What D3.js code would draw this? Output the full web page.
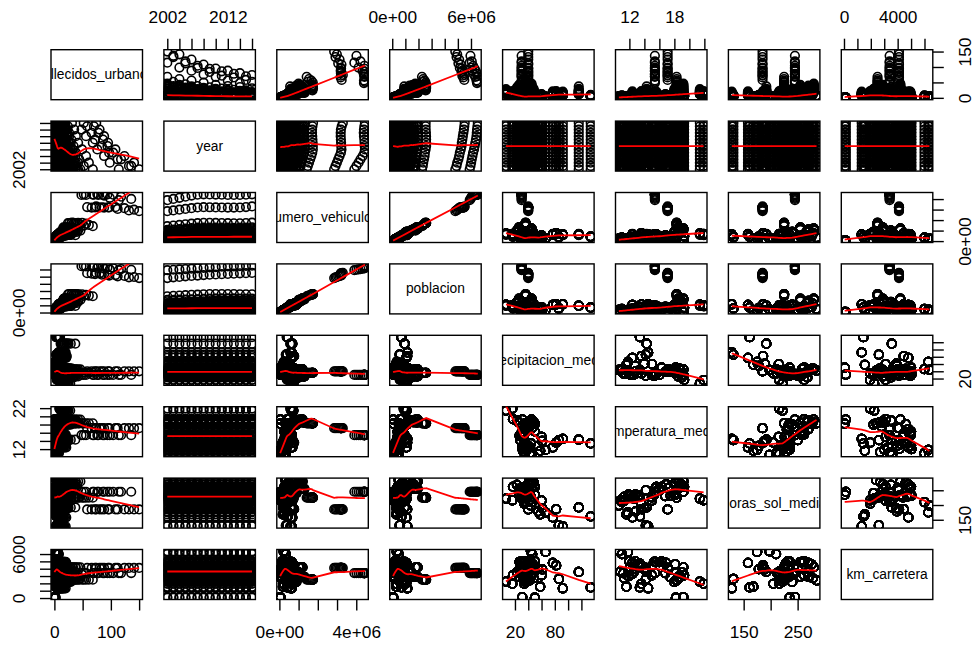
<!DOCTYPE html>
<html>
<head>
<meta charset="utf-8">
<script src="https://cdn.jsdelivr.net/npm/d3@7"></script>
<style>
  body { margin: 0; background: #fff; }
  svg { display: block; }
</style>
</head>
<body>
<svg id="chart" width="975" height="646"></svg>
<script>
// ---- Data: one record per province and year -------------------------------
const years = [2002, 2003, 2004, 2005, 2006, 2007, 2008, 2009, 2010, 2011, 2012, 2013, 2014, 2015, 2016];

const provincias = [
  "Gipuzkoa", "Pontevedra", "Bizkaia", "Cantabria", "A Coruña", "Asturias", "Lugo", "Ourense",
  "Navarra", "Araba/Álava", "Girona", "Ceuta", "Melilla", "Las Palmas", "Santa Cruz de Tenerife",
  "Almería", "Murcia", "Alicante", "Valencia", "Castellón", "Málaga", "Cádiz", "Huelva", "Sevilla",
  "Córdoba", "Jaén", "Granada", "Illes Balears", "Badajoz", "Cáceres", "Tarragona", "Barcelona",
  "Madrid", "Toledo", "Ciudad Real", "Albacete", "Cuenca", "Guadalajara", "Zaragoza", "Huesca",
  "Teruel", "Lleida", "La Rioja", "Soria", "Burgos", "Palencia", "León", "Valladolid", "Zamora",
  "Salamanca", "Ávila", "Segovia"
];

// Province-level climate and road network (same value every year)
const precipitacion_media = [134, 116, 92, 86, 82, 77, 66, 61, 55, 58, 60, 50, 31, 6.5, 16, 17, 23, 26, 36, 40,
  44, 48, 42, 45, 47, 46, 34, 36, 40, 50, 38, 40, 30, 30, 33, 28, 40, 36, 27, 44, 31, 30, 34, 42, 44, 35, 46,
  33, 31, 32, 33, 38];
const temperatura_media = [13.4, 14.3, 14.5, 14.2, 13.6, 12.4, 11.8, 14.0, 12.8, 11.6, 15.0, 18.2, 19.2, 21.4,
  21.9, 19.3, 19.0, 18.5, 18.3, 17.5, 18.8, 18.6, 18.3, 19.2, 18.1, 17.2, 15.6, 18.0, 16.9, 16.3, 16.8, 17.1,
  15.4, 16.0, 15.5, 14.2, 12.8, 13.2, 15.3, 13.4, 12.1, 15.0, 13.6, 10.8, 10.6, 11.2, 11.0, 12.4, 12.6, 12.0,
  11.3, 11.9];
const horas_sol_media = [161, 192, 128, 131, 186, 158, 175, 189, 178, 168, 215, 235, 245, 222, 216, 262, 268, 255,
  225, 232, 270, 278, 285, 280, 276, 258, 262, 240, 270, 262, 230, 185, 245, 255, 258, 250, 235, 232, 235, 228,
  232, 226, 205, 216, 198, 212, 210, 226, 222, 232, 228, 235];
const km_carretera = [1450, 3560, 1320, 2600, 4450, 4800, 6290, 3900, 3950, 1550, 3100, 52, 140, 2250, 1950, 3100,
  3500, 2900, 2500, 2800, 2900, 2700, 2400, 4200, 4600, 4000, 4900, 2200, 4800, 5000, 3400, 4100, 3400, 4900,
  4950, 4100, 5000, 4300, 4950, 4700, 4150, 4400, 1950, 3600, 6367, 3400, 6000, 3300, 3600, 5030, 2700, 3000];

// Population, thousands (rows: provinces, columns: years)
const poblacion = [
  [677, 680, 683, 686, 688, 692, 701, 705, 708, 710, 713, 712, 710, 711, 714],
  [919, 927, 934, 938, 939, 944, 953, 959, 963, 962, 958, 955, 950, 945, 943],
  [1128, 1133, 1136, 1139, 1140, 1142, 1147, 1153, 1153, 1155, 1159, 1156, 1151, 1148, 1147],
  [542, 549, 555, 563, 569, 573, 582, 589, 592, 593, 593, 591, 588, 585, 582],
  [1111, 1117, 1122, 1127, 1130, 1132, 1139, 1146, 1147, 1146, 1143, 1138, 1132, 1127, 1122],
  [1073, 1076, 1074, 1077, 1077, 1075, 1080, 1085, 1084, 1081, 1077, 1068, 1061, 1051, 1042],
  [361, 360, 358, 357, 356, 355, 355, 354, 353, 351, 347, 343, 339, 336, 333],
  [342, 341, 340, 339, 338, 336, 335, 335, 333, 330, 326, 322, 318, 314, 311],
  [569, 578, 584, 593, 601, 605, 620, 630, 636, 642, 644, 640, 640, 640, 640],
  [291, 295, 298, 301, 305, 309, 313, 317, 319, 321, 322, 321, 321, 322, 323],
  [598, 621, 636, 666, 687, 710, 731, 748, 752, 757, 761, 756, 753, 754, 756],
  [74, 75, 75, 75, 76, 77, 77, 78, 80, 82, 84, 84, 84, 84, 84],
  [68, 67, 65, 66, 66, 70, 71, 73, 76, 78, 80, 82, 84, 85, 86],
  [924, 955, 965, 1000, 1010, 1030, 1070, 1090, 1090, 1090, 1100, 1100, 1100, 1100, 1100],
  [844, 877, 888, 937, 950, 970, 1010, 1020, 1020, 1020, 1010, 1010, 1000, 1000, 1010],
  [565, 580, 590, 617, 635, 647, 667, 695, 702, 705, 704, 700, 701, 702, 705],
  [1226, 1269, 1295, 1335, 1370, 1392, 1426, 1446, 1462, 1470, 1474, 1472, 1467, 1467, 1465],
  [1565, 1632, 1658, 1733, 1783, 1826, 1891, 1918, 1926, 1935, 1943, 1934, 1868, 1856, 1836],
  [2267, 2326, 2360, 2416, 2463, 2486, 2543, 2582, 2581, 2580, 2578, 2566, 2548, 2544, 2544],
  [501, 523, 532, 560, 574, 587, 603, 609, 604, 606, 604, 601, 587, 582, 579],
  [1330, 1374, 1397, 1454, 1492, 1518, 1563, 1594, 1609, 1625, 1641, 1652, 1621, 1628, 1629],
  [1140, 1155, 1165, 1180, 1195, 1207, 1220, 1230, 1236, 1244, 1245, 1240, 1239, 1239, 1239],
  [472, 476, 483, 492, 497, 507, 513, 518, 519, 522, 522, 520, 520, 519, 519],
  [1758, 1782, 1788, 1813, 1835, 1849, 1876, 1900, 1917, 1928, 1936, 1942, 1942, 1941, 1940],
  [769, 772, 774, 780, 785, 789, 795, 803, 805, 806, 805, 802, 800, 797, 795],
  [645, 646, 648, 654, 662, 664, 667, 669, 670, 670, 670, 664, 659, 654, 649],
  [841, 860, 870, 885, 901, 907, 915, 921, 918, 922, 924, 920, 919, 917, 917],
  [916, 947, 955, 983, 1001, 1030, 1072, 1095, 1106, 1113, 1119, 1111, 1104, 1104, 1107],
  [661, 663, 664, 668, 671, 672, 686, 688, 692, 692, 693, 690, 688, 686, 685],
  [409, 411, 412, 412, 413, 413, 415, 414, 414, 415, 412, 410, 408, 406, 404],
  [636, 662, 678, 705, 734, 757, 789, 804, 808, 811, 812, 805, 796, 794, 792],
  [4805, 4900, 4950, 5040, 5100, 5150, 5220, 5280, 5300, 5340, 5380, 5420, 5460, 5490, 5520],
  [5900, 5960, 6010, 6060, 6110, 6160, 6230, 6280, 6330, 6380, 6420, 6440, 6460, 6490, 6520],
  [563, 580, 590, 615, 640, 651, 671, 689, 697, 705, 707, 706, 699, 693, 688],
  [483, 487, 491, 500, 510, 514, 523, 528, 530, 530, 527, 524, 519, 513, 508],
  [374, 377, 379, 385, 390, 393, 398, 401, 402, 402, 401, 399, 396, 394, 392],
  [201, 203, 204, 207, 209, 212, 215, 217, 218, 218, 216, 213, 209, 206, 204],
  [174, 185, 193, 204, 213, 225, 238, 247, 252, 256, 258, 255, 253, 253, 254],
  [880, 893, 897, 912, 917, 932, 955, 970, 973, 978, 978, 973, 960, 957, 954],
  [208, 211, 213, 216, 219, 221, 226, 229, 228, 228, 228, 226, 222, 221, 220],
  [137, 139, 140, 142, 143, 145, 146, 146, 145, 144, 143, 142, 140, 138, 136],
  [377, 383, 391, 399, 408, 415, 430, 439, 440, 442, 441, 438, 436, 434, 433],
  [282, 288, 294, 301, 306, 309, 317, 321, 322, 323, 323, 319, 316, 315, 315],
  [91, 92, 92, 93, 93, 93, 94, 95, 95, 95, 94, 93, 92, 91, 90],
  [352, 354, 357, 362, 364, 366, 373, 376, 375, 375, 374, 371, 368, 365, 362],
  [175, 175, 174, 173, 173, 173, 173, 172, 172, 171, 170, 168, 167, 165, 164],
  [490, 491, 490, 491, 496, 497, 500, 500, 499, 497, 494, 490, 485, 480, 474],
  [504, 508, 511, 515, 519, 522, 529, 533, 533, 534, 532, 529, 526, 524, 522],
  [199, 199, 198, 198, 197, 197, 196, 195, 194, 193, 191, 189, 186, 183, 180],
  [347, 347, 346, 349, 352, 352, 354, 354, 353, 352, 350, 346, 342, 339, 335],
  [164, 165, 166, 168, 170, 171, 172, 172, 172, 172, 171, 169, 167, 164, 162],
  [150, 152, 153, 156, 159, 160, 164, 165, 164, 164, 163, 161, 159, 157, 155]
];

// Registered vehicles, thousands
const numero_vehiculos = [
  [380, 390, 400, 410, 420, 428, 432, 432, 430, 430, 428, 427, 428, 432, 438],
  [560, 580, 600, 620, 640, 655, 662, 665, 666, 668, 667, 666, 668, 675, 684],
  [560, 575, 590, 605, 620, 632, 640, 640, 638, 636, 632, 630, 632, 638, 645],
  [330, 342, 355, 368, 380, 390, 395, 396, 396, 396, 394, 393, 395, 400, 406],
  [640, 660, 680, 700, 720, 738, 748, 752, 754, 755, 753, 752, 755, 763, 772],
  [580, 598, 615, 632, 648, 662, 670, 672, 672, 671, 668, 666, 667, 672, 680],
  [220, 226, 232, 238, 244, 249, 252, 253, 253, 253, 252, 251, 252, 254, 257],
  [200, 206, 212, 218, 223, 228, 231, 232, 232, 232, 231, 230, 231, 233, 236],
  [360, 372, 385, 398, 410, 420, 426, 428, 428, 428, 426, 425, 427, 432, 438],
  [170, 176, 182, 188, 194, 199, 202, 203, 203, 203, 202, 201, 202, 205, 208],
  [440, 460, 480, 500, 520, 538, 548, 550, 548, 546, 542, 540, 543, 550, 560],
  [48, 50, 52, 54, 56, 57, 58, 58, 58, 58, 57, 57, 57, 58, 59],
  [42, 44, 46, 48, 50, 52, 53, 53, 53, 53, 52, 52, 52, 53, 54],
  [600, 625, 650, 675, 700, 720, 730, 728, 722, 716, 710, 706, 710, 722, 738],
  [560, 584, 608, 632, 655, 675, 684, 682, 676, 670, 664, 660, 664, 676, 690],
  [390, 408, 426, 444, 462, 478, 486, 486, 484, 482, 479, 477, 480, 487, 495],
  [820, 856, 892, 928, 962, 992, 1008, 1008, 1004, 1000, 995, 991, 996, 1010, 1026],
  [1060, 1105, 1150, 1195, 1238, 1275, 1295, 1296, 1290, 1284, 1276, 1270, 1275, 1292, 1312],
  [1420, 1480, 1540, 1600, 1660, 1710, 1740, 1740, 1730, 1720, 1710, 1700, 1700, 1720, 1750],
  [350, 366, 382, 398, 413, 426, 432, 432, 430, 428, 425, 423, 425, 431, 438],
  [880, 920, 960, 1000, 1040, 1075, 1092, 1094, 1090, 1086, 1080, 1077, 1082, 1098, 1116],
  [640, 664, 688, 712, 735, 755, 765, 767, 766, 765, 762, 760, 764, 774, 786],
  [290, 300, 311, 322, 332, 341, 346, 347, 347, 347, 346, 345, 347, 352, 357],
  [1000, 1036, 1072, 1108, 1142, 1172, 1188, 1190, 1188, 1186, 1182, 1179, 1184, 1200, 1218],
  [440, 454, 468, 482, 496, 508, 514, 515, 515, 514, 512, 511, 513, 519, 526],
  [370, 382, 394, 406, 418, 428, 433, 434, 434, 433, 432, 431, 432, 437, 443],
  [530, 550, 570, 590, 610, 627, 636, 638, 637, 636, 633, 631, 634, 642, 652],
  [720, 750, 780, 810, 838, 862, 874, 876, 874, 872, 868, 866, 870, 882, 896],
  [380, 392, 404, 416, 428, 438, 444, 445, 445, 444, 443, 442, 443, 448, 454],
  [240, 247, 254, 261, 268, 274, 277, 278, 278, 278, 277, 276, 277, 280, 284],
  [440, 460, 480, 500, 520, 537, 546, 548, 547, 546, 543, 541, 544, 552, 561],
  [2850, 2920, 2990, 3060, 3130, 3200, 3230, 3220, 3210, 3200, 3190, 3190, 3200, 3240, 3300],
  [3900, 4010, 4120, 4220, 4330, 4420, 4450, 4440, 4430, 4420, 4400, 4390, 4400, 4420, 4450],
  [390, 408, 426, 444, 462, 478, 486, 488, 487, 486, 484, 482, 485, 492, 500],
  [300, 310, 320, 330, 340, 348, 353, 354, 354, 353, 352, 351, 352, 356, 361],
  [230, 237, 244, 251, 258, 264, 267, 268, 268, 268, 267, 266, 267, 270, 274],
  [130, 134, 138, 142, 146, 149, 151, 152, 152, 152, 151, 151, 151, 153, 155],
  [120, 128, 136, 144, 152, 159, 163, 164, 164, 164, 163, 162, 163, 166, 169],
  [540, 558, 576, 594, 612, 627, 636, 638, 637, 636, 633, 631, 634, 642, 652],
  [140, 144, 148, 152, 156, 160, 162, 162, 162, 162, 161, 160, 161, 163, 166],
  [90, 92, 94, 96, 98, 100, 101, 101, 101, 101, 100, 100, 100, 101, 103],
  [270, 280, 290, 300, 310, 318, 323, 324, 324, 324, 323, 322, 323, 327, 332],
  [180, 186, 192, 198, 204, 209, 212, 213, 213, 213, 212, 211, 212, 215, 218],
  [58, 60, 61, 63, 64, 65, 66, 66, 66, 66, 66, 65, 65, 66, 67],
  [210, 216, 222, 228, 234, 239, 242, 243, 243, 243, 242, 241, 242, 245, 248],
  [100, 103, 106, 109, 112, 114, 115, 116, 116, 116, 115, 115, 115, 117, 118],
  [290, 298, 306, 314, 322, 328, 332, 333, 333, 333, 332, 331, 332, 336, 340],
  [300, 309, 318, 327, 336, 344, 348, 349, 349, 349, 348, 347, 348, 352, 357],
  [120, 123, 126, 129, 132, 134, 136, 136, 136, 136, 135, 135, 135, 137, 139],
  [200, 206, 212, 218, 224, 229, 232, 233, 233, 233, 232, 231, 232, 235, 238],
  [100, 103, 106, 109, 112, 114, 116, 116, 116, 116, 115, 115, 115, 117, 119],
  [96, 99, 102, 105, 108, 110, 112, 112, 112, 112, 111, 111, 111, 113, 115]
];

// Deaths on urban roads
const fallecidos_urbanos = [
  [9, 8, 10, 7, 8, 6, 7, 5, 6, 4, 5, 4, 5, 3, 4],
  [37, 24, 29, 21, 25, 18, 22, 15, 19, 13, 16, 12, 14, 11, 12],
  [20, 16, 18, 14, 15, 12, 13, 10, 12, 9, 10, 8, 9, 7, 8],
  [10, 9, 9, 8, 7, 7, 6, 5, 6, 4, 5, 4, 3, 4, 5],
  [22, 18, 20, 16, 17, 13, 15, 11, 13, 10, 11, 9, 10, 8, 9],
  [21, 17, 19, 15, 16, 13, 14, 11, 12, 9, 11, 8, 10, 8, 9],
  [5, 4, 4, 3, 4, 3, 3, 2, 3, 2, 2, 1, 2, 2, 1],
  [6, 5, 5, 4, 5, 4, 3, 3, 2, 3, 2, 2, 1, 2, 2],
  [10, 9, 8, 8, 7, 6, 6, 5, 5, 4, 4, 5, 3, 4, 3],
  [6, 5, 5, 4, 4, 4, 3, 3, 2, 2, 3, 2, 2, 1, 2],
  [12, 11, 10, 10, 9, 8, 8, 7, 6, 5, 5, 6, 4, 5, 4],
  [2, 1, 1, 2, 1, 0, 1, 1, 0, 1, 0, 1, 0, 0, 1],
  [1, 2, 1, 1, 0, 1, 1, 0, 1, 0, 1, 0, 0, 1, 0],
  [28, 23, 25, 20, 22, 17, 19, 15, 17, 13, 15, 12, 14, 11, 13],
  [22, 18, 20, 16, 18, 14, 15, 12, 14, 10, 12, 9, 11, 10, 9],
  [12, 11, 10, 11, 9, 9, 8, 7, 6, 6, 5, 6, 5, 4, 5],
  [34, 28, 31, 25, 27, 21, 24, 18, 21, 15, 18, 13, 16, 14, 15],
  [42, 35, 38, 30, 33, 27, 29, 22, 26, 19, 23, 17, 21, 18, 16],
  [68, 52, 61, 44, 56, 38, 49, 34, 42, 30, 38, 26, 35, 24, 31],
  [10, 9, 9, 8, 7, 7, 6, 5, 5, 4, 4, 3, 4, 3, 4],
  [40, 33, 36, 29, 31, 24, 28, 21, 25, 18, 22, 16, 20, 17, 19],
  [30, 25, 27, 22, 24, 19, 21, 16, 18, 14, 16, 12, 14, 13, 12],
  [8, 8, 7, 7, 6, 6, 5, 5, 4, 4, 3, 4, 3, 3, 4],
  [46, 38, 42, 33, 37, 28, 32, 24, 29, 21, 26, 18, 23, 20, 17],
  [15, 14, 13, 12, 11, 10, 9, 8, 7, 7, 6, 7, 6, 5, 6],
  [9, 8, 8, 7, 7, 6, 5, 5, 4, 4, 4, 3, 3, 4, 3],
  [20, 16, 18, 14, 15, 12, 13, 10, 11, 9, 10, 8, 9, 8, 9],
  [29, 24, 26, 21, 23, 18, 20, 15, 17, 13, 15, 12, 14, 11, 13],
  [10, 9, 9, 8, 8, 7, 6, 6, 5, 5, 4, 5, 4, 4, 5],
  [5, 5, 4, 4, 4, 3, 3, 3, 2, 2, 2, 3, 2, 2, 2],
  [12, 11, 10, 10, 9, 8, 7, 7, 6, 6, 5, 5, 4, 5, 5],
  [150, 132, 141, 112, 124, 97, 108, 84, 95, 72, 88, 66, 80, 58, 74],
  [114, 136, 98, 118, 88, 104, 76, 94, 68, 86, 56, 78, 48, 70, 52],
  [8, 8, 7, 7, 6, 6, 5, 5, 4, 4, 4, 3, 3, 3, 4],
  [7, 7, 6, 6, 6, 5, 5, 4, 4, 3, 3, 3, 3, 2, 3],
  [6, 6, 5, 5, 5, 4, 4, 4, 3, 3, 3, 2, 3, 2, 3],
  [2, 2, 2, 1, 2, 1, 1, 1, 1, 0, 1, 1, 0, 1, 0],
  [3, 3, 2, 3, 2, 2, 2, 1, 2, 1, 1, 1, 1, 1, 2],
  [20, 16, 18, 14, 16, 12, 14, 10, 12, 9, 11, 8, 10, 8, 9],
  [3, 3, 2, 2, 2, 2, 2, 1, 2, 1, 1, 1, 1, 2, 1],
  [1, 1, 1, 1, 1, 1, 0, 1, 0, 1, 0, 0, 1, 0, 0],
  [6, 6, 5, 5, 5, 4, 4, 3, 3, 3, 3, 2, 3, 2, 2],
  [5, 5, 4, 4, 4, 3, 3, 3, 2, 2, 2, 2, 2, 2, 2],
  [1, 1, 0, 1, 1, 0, 1, 0, 0, 1, 0, 0, 0, 1, 0],
  [6, 5, 5, 5, 4, 4, 4, 3, 3, 3, 2, 3, 2, 2, 2],
  [2, 2, 2, 1, 2, 1, 1, 1, 1, 1, 0, 1, 1, 0, 1],
  [8, 7, 7, 6, 6, 5, 5, 4, 4, 4, 3, 3, 3, 3, 3],
  [9, 8, 8, 7, 7, 6, 6, 5, 5, 4, 4, 4, 3, 4, 3],
  [2, 2, 2, 2, 1, 1, 1, 1, 1, 1, 1, 0, 1, 1, 1],
  [5, 5, 4, 4, 4, 4, 3, 3, 3, 2, 2, 2, 2, 2, 2],
  [2, 2, 2, 1, 1, 1, 1, 1, 1, 1, 1, 0, 1, 0, 1],
  [2, 2, 1, 1, 1, 1, 1, 1, 1, 0, 1, 1, 0, 1, 0]
];

const variables = ["fallecidos_urbanos", "year", "numero_vehiculos", "poblacion",
  "precipitacion_media", "temperatura_media", "horas_sol_media", "km_carretera"];

// Axis tick positions for each variable
const ticks_fallecidos = [0, 50, 100, 150];
const ticks_year = [2002, 2004, 2006, 2008, 2010, 2012, 2014, 2016];
const ticks_vehiculos = [0, 1e6, 2e6, 3e6, 4e6];
const ticks_poblacion = [0, 1e6, 2e6, 3e6, 4e6, 5e6, 6e6];
const ticks_precipitacion = [20, 40, 60, 80, 100, 120];
const ticks_temperatura = [12, 14, 16, 18, 20, 22];
const ticks_horas_sol = [150, 200, 250];
const ticks_km = [0, 1000, 2000, 3000, 4000, 5000, 6000];

const tickSets = [ticks_fallecidos, ticks_year, ticks_vehiculos, ticks_poblacion,
  ticks_precipitacion, ticks_temperatura, ticks_horas_sol, ticks_km];
const scientific = [false, false, true, true, false, false, false, false];

// ---- Records ----------------------------------------------------------------
const rows = [];
provincias.forEach((prov, k) => {
  years.forEach((yr, t) => {
    rows.push({
      provincia: prov,
      fallecidos_urbanos: fallecidos_urbanos[k][t],
      year: yr,
      numero_vehiculos: numero_vehiculos[k][t] * 1000,
      poblacion: poblacion[k][t] * 1000,
      precipitacion_media: precipitacion_media[k],
      temperatura_media: temperatura_media[k],
      horas_sol_media: horas_sol_media[k],
      km_carretera: km_carretera[k]
    });
  });
});

// ---- Locally weighted scatterplot smoothing (Cleveland's lowess) -----------
function lowess(xIn, yIn, f = 2 / 3, nsteps = 3) {
  const n = xIn.length;
  const order = d3.range(n).sort((a, b) => (xIn[a] - xIn[b]) || (a - b));
  // 1-based working arrays
  const X = [NaN], Y = [NaN];
  order.forEach(i => { X.push(xIn[i]); Y.push(yIn[i]); });
  const YS = new Float64Array(n + 1), RW = new Float64Array(n + 1);
  const RES = new Float64Array(n + 1), Wt = new Float64Array(n + 1);
  const delta = 0.01 * (X[n] - X[1]);
  const range = X[n] - X[1];

  function lowest(xs, nleft, nright, userw) {
    const h = Math.max(xs - X[nleft], X[nright] - xs);
    const h9 = 0.999 * h, h1 = 0.001 * h;
    let a = 0, j = nleft;
    while (j <= n) {
      Wt[j] = 0;
      const r = Math.abs(X[j] - xs);
      if (r <= h9) {
        if (r <= h1) Wt[j] = 1;
        else { const q = r / h; const c = 1 - q * q * q; Wt[j] = c * c * c; }
        if (userw) Wt[j] *= RW[j];
        a += Wt[j];
      } else if (X[j] > xs) break;
      j++;
    }
    const nrt = j - 1;
    if (a <= 0) return null;
    for (j = nleft; j <= nrt; j++) Wt[j] /= a;
    if (h > 0) {
      a = 0;
      for (j = nleft; j <= nrt; j++) a += Wt[j] * X[j];
      let b = xs - a, c = 0;
      for (j = nleft; j <= nrt; j++) c += Wt[j] * (X[j] - a) * (X[j] - a);
      if (Math.sqrt(c) > 0.001 * range) {
        b /= c;
        for (j = nleft; j <= nrt; j++) Wt[j] *= (b * (X[j] - a) + 1);
      }
    }
    let ys = 0;
    for (j = nleft; j <= nrt; j++) ys += Wt[j] * Y[j];
    return ys;
  }

  const ns = Math.max(2, Math.min(n, Math.floor(f * n + 1e-7)));
  let iter = 1;
  while (iter <= nsteps + 1) {
    let nleft = 1, nright = ns, last = 0, i = 1;
    for (;;) {
      if (nright < n) {
        const d1 = X[i] - X[nleft], d2 = X[nright + 1] - X[i];
        if (d1 > d2) { nleft++; nright++; continue; }
      }
      const fit = lowest(X[i], nleft, nright, iter > 1);
      YS[i] = fit === null ? Y[i] : fit;
      if (last < i - 1) {
        const denom = X[i] - X[last];
        for (let j = last + 1; j < i; j++) {
          const alpha = (X[j] - X[last]) / denom;
          YS[j] = alpha * YS[i] + (1 - alpha) * YS[last];
        }
      }
      last = i;
      const cut = X[last] + delta;
      for (i = last + 1; i <= n; i++) {
        if (X[i] > cut) break;
        if (X[i] === X[last]) { YS[i] = YS[last]; last = i; }
      }
      i = Math.max(last + 1, i - 1);
      if (last >= n) break;
    }
    let sc = 0;
    for (let k = 1; k <= n; k++) { RES[k] = Y[k] - YS[k]; sc += Math.abs(RES[k]); }
    sc /= n;
    if (iter > nsteps) break;
    const sorted = Array.from(RES.slice(1), Math.abs).sort((a, b) => a - b);
    const m1 = Math.floor(n / 2);
    let cmad;
    if (n % 2 === 0) cmad = 3 * (sorted[m1] + sorted[n - m1 - 1]);
    else cmad = 6 * sorted[m1];
    if (cmad < 1e-7 * sc) break;
    const c9 = 0.999 * cmad, c1 = 0.001 * cmad;
    for (let k = 1; k <= n; k++) {
      const r = Math.abs(RES[k]);
      if (r <= c1) RW[k] = 1;
      else if (r <= c9) { const q = r / cmad; RW[k] = (1 - q * q) * (1 - q * q); }
      else RW[k] = 0;
    }
    iter++;
  }
  const out = [];
  for (let k = 1; k <= n; k++) out.push([X[k], YS[k]]);
  return out;
}

// ---- Layout -----------------------------------------------------------------
const W = 975, H = 646;
const marginLeft = 51, marginTop = 49.7;
const pw = 91.5, ph = 50, gap = 21.4;
const tickLen = 11, labelOffset = 32.5, labelGap = 18;
const axisFont = "17.3px", diagFont = "13.8px";
const fontFamily = "'Liberation Sans', Arial, Helvetica, sans-serif";
const pointRadius = 4.3, pointStroke = 1.6;

const svg = d3.select("#chart");
svg.append("rect").attr("width", W).attr("height", H).attr("fill", "#fff");
const defs = svg.append("defs");

// Data range expanded by 4% on each side, as in base graphics
const domains = variables.map(v => {
  const [a, b] = d3.extent(rows, d => d[v]);
  const r = b - a;
  return [a - 0.04 * r, b + 0.04 * r];
});

function fmtTick(v, sci) {
  if (!sci) return String(v);
  if (v === 0) return "0e+00";
  const e = Math.floor(Math.log10(Math.abs(v)));
  const m = Math.round(v / Math.pow(10, e));
  return `${m}e${e < 0 ? "-" : "+"}${String(Math.abs(e)).padStart(2, "0")}`;
}

function drawAxis(g, side, scale, varIdx) {
  const gen = side === "top" ? d3.axisTop(scale)
    : side === "bottom" ? d3.axisBottom(scale)
    : side === "left" ? d3.axisLeft(scale) : d3.axisRight(scale);
  gen.tickValues(tickSets[varIdx]).tickSize(tickLen).tickSizeOuter(0)
    .tickFormat(v => fmtTick(v, scientific[varIdx]));
  const ag = g.append("g").attr("class", "axis");
  if (side === "bottom") ag.attr("transform", `translate(0,${ph})`);
  if (side === "right") ag.attr("transform", `translate(${pw},0)`);
  ag.call(gen);
  ag.attr("font-size", axisFont).attr("font-family", fontFamily);
  ag.select(".domain").remove();
  ag.selectAll(".tick line").attr("stroke", "#000").attr("stroke-width", 1.4);
  const texts = ag.selectAll(".tick text")
    .attr("fill", "#000").attr("dy", null).attr("x", null).attr("y", null)
    .attr("text-anchor", "middle").attr("dominant-baseline", "central");
  if (side === "top") texts.attr("y", -labelOffset);
  if (side === "bottom") texts.attr("y", labelOffset);
  if (side === "left") texts.attr("transform", `translate(${-labelOffset},0) rotate(-90)`);
  if (side === "right") texts.attr("transform", `translate(${labelOffset},0) rotate(-90)`);
  // drop labels that would collide with the previously drawn one
  let lastPos = null, lastW = 0;
  ag.selectAll(".tick").each(function (d) {
    const t = d3.select(this).select("text");
    const w = t.node().getComputedTextLength();
    const pos = scale(d);
    if (lastPos === null || Math.abs(pos - lastPos) >= (w + lastW) / 2 + labelGap) {
      lastPos = pos; lastW = w;
    } else {
      t.remove();
    }
  });
}

const nv = variables.length;
const line = d3.line();

for (let i = 0; i < nv; i++) {
  for (let j = 0; j < nv; j++) {
    const gx = marginLeft + j * (pw + gap), gy = marginTop + i * (ph + gap);
    const g = svg.append("g").attr("transform", `translate(${gx},${gy})`);
    const x = d3.scaleLinear().domain(domains[j]).range([0, pw]);
    const y = d3.scaleLinear().domain(domains[i]).range([ph, 0]);
    const clipId = `clip-${i}-${j}`;
    defs.append("clipPath").attr("id", clipId)
      .append("rect").attr("width", pw).attr("height", ph);

    g.append("rect").attr("width", pw).attr("height", ph)
      .attr("fill", "none").attr("stroke", "#000").attr("stroke-width", 1.4);

    if (i === 0 && j % 2 === 1) drawAxis(g, "top", x, j);
    if (i === nv - 1 && j % 2 === 0) drawAxis(g, "bottom", x, j);
    if (j === 0 && i % 2 === 1) drawAxis(g, "left", y, i);
    if (j === nv - 1 && i % 2 === 0) drawAxis(g, "right", y, i);

    const inner = g.append("g").attr("clip-path", `url(#${clipId})`);
    if (i === j) {
      inner.append("text")
        .attr("x", pw / 2).attr("y", ph / 2)
        .attr("text-anchor", "middle").attr("dominant-baseline", "central")
        .attr("font-family", fontFamily).attr("font-size", diagFont)
        .attr("fill", "#000")
        .text(variables[i]);
      continue;
    }
    const vx = variables[j], vy = variables[i];
    inner.append("g").selectAll("circle").data(rows).join("circle")
      .attr("cx", d => x(d[vx])).attr("cy", d => y(d[vy]))
      .attr("r", pointRadius).attr("fill", "none")
      .attr("stroke", "#000").attr("stroke-width", pointStroke);

    const fit = lowess(rows.map(d => d[vx]), rows.map(d => d[vy]));
    inner.append("path")
      .attr("d", line(fit.map(([a, b]) => [x(a), y(b)])))
      .attr("fill", "none").attr("stroke", "#ff0000").attr("stroke-width", 1.8);
  }
}
</script>
</body>
</html>
